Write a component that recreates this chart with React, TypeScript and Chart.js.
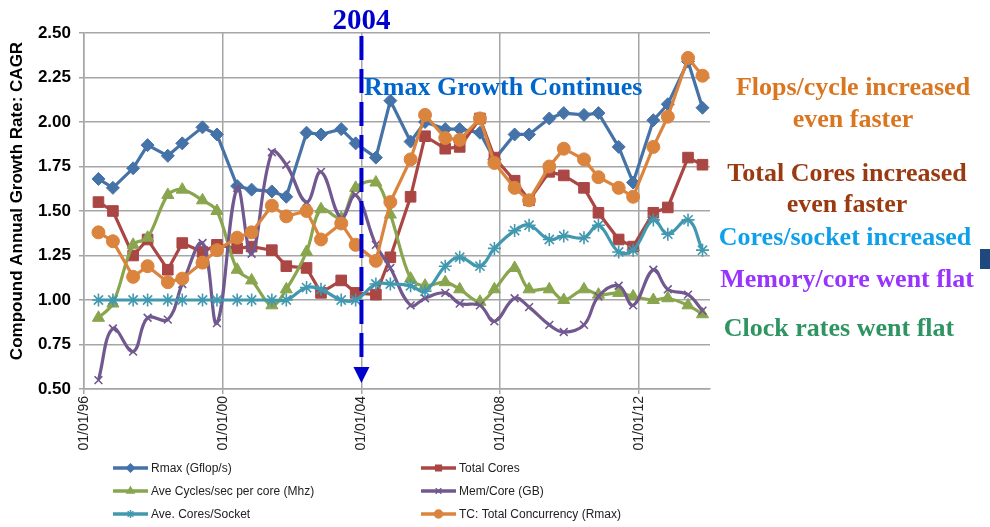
import React, { useEffect, useRef } from 'react';
import { Chart, registerables } from 'chart.js';
import { drawPoint } from 'chart.js/helpers';

Chart.register(...registerables);

// ---------- data ----------
const listDates = [
  '1996-06', '1996-11', '1997-06', '1997-11', '1998-06', '1998-11',
  '1999-06', '1999-11', '2000-06', '2000-11', '2001-06', '2001-11',
  '2002-06', '2002-11', '2003-06', '2003-11', '2004-06', '2004-11',
  '2005-06', '2005-11', '2006-06', '2006-11', '2007-06', '2007-11',
  '2008-06', '2008-11', '2009-06', '2009-11', '2010-06', '2010-11',
  '2011-06', '2011-11', '2012-06', '2012-11', '2013-06', '2013-11',
];

const rmax = [
  1.68, 1.63, 1.74, 1.87, 1.81, 1.88, 1.97, 1.93,
  1.64, 1.62, 1.61, 1.58, 1.94, 1.93, 1.96, 1.88,
  1.80, 2.12, 1.89, 2.00, 1.96, 1.96, 1.94, 1.79,
  1.93, 1.93, 2.02, 2.05, 2.04, 2.05, 1.86, 1.66,
  2.01, 2.10, 2.34, 2.08,
];
const totalCores = [
  1.55, 1.50, 1.25, 1.34, 1.17, 1.32, 1.27, 1.31,
  1.29, 1.30, 1.28, 1.19, 1.18, 1.04, 1.11, 1.04,
  1.03, 1.24, 1.58, 1.92, 1.85, 1.86, 2.02, 1.80,
  1.67, 1.56, 1.72, 1.70, 1.63, 1.49, 1.34, 1.30,
  1.49, 1.52, 1.80, 1.76,
];
const aveCycles = [
  0.90, 0.98, 1.31, 1.35, 1.59, 1.62, 1.56, 1.50,
  1.17, 1.11, 0.97, 1.06, 1.27, 1.51, 1.46, 1.63,
  1.66, 1.48, 1.12, 1.08, 1.10, 1.06, 0.99, 1.06,
  1.18, 1.06, 1.06, 1.00, 1.06, 1.03, 1.04, 1.02,
  1.00, 1.01, 0.97, 0.92,
];
const memPerCore = [
  0.55, 0.84, 0.71, 0.90, 0.89, 1.09, 1.32, 0.87,
  1.63, 1.26, 1.83, 1.76, 1.55, 1.72, 1.46, 1.59,
  1.31, 1.18, 0.97, 1.01, 1.04, 0.98, 0.97, 0.88,
  1.01, 0.96, 0.86, 0.82, 0.86, 1.02, 1.08, 0.97,
  1.17, 1.06, 1.03, 0.94,
];
const coresPerSocket = [
  1.00, 1.00, 1.00, 1.00, 1.00, 1.00, 1.00, 1.00,
  1.00, 1.00, 1.00, 1.00, 1.07, 1.06, 1.00, 1.00,
  1.09, 1.09, 1.08, 1.05, 1.19, 1.24, 1.19, 1.29,
  1.39, 1.42, 1.34, 1.36, 1.35, 1.42, 1.27, 1.28,
  1.45, 1.37, 1.45, 1.28,
];
const totalConcurrency = [
  1.38, 1.33, 1.13, 1.19, 1.10, 1.12, 1.21, 1.28,
  1.35, 1.38, 1.53, 1.47, 1.50, 1.34, 1.43, 1.31,
  1.22, 1.55, 1.79, 2.04, 1.91, 1.90, 2.02, 1.77,
  1.63, 1.56, 1.75, 1.85, 1.79, 1.69, 1.63, 1.58,
  1.86, 2.03, 2.36, 2.26,
];

const seriesNames = [
  'Rmax (Gflop/s)',
  'Total Cores',
  'Ave Cycles/sec per core (Mhz)',
  'Mem/Core (GB)',
  'Ave. Cores/Socket',
  'TC: Total Concurrency (Rmax)',
];

const xTickYears = [1996, 2000, 2004, 2008, 2012];
const xTickLabels = ['01/01/96', '01/01/00', '01/01/04', '01/01/08', '01/01/12'];
const xMinYear = 1996;
const xMaxYear = 2014.05;
const yMin = 0.5;
const yMax = 2.5;
const yStep = 0.25;
const markerYear = 2004;

const yTitle = 'Compound Annual Growth Rate: CAGR';

// ---------- styles ----------
const colors = ['#4572A7', '#AA4643', '#89A54E', '#71588F', '#4198AF', '#DB843D'];
const pointStyles = ['rectRot', 'rect', 'triangle', 'crossRot', 'star', 'circle'];
const pointRadii = [6.5, 7.5, 7, 5.5, 6.5, 6.5];
const tensions = [0, 0, 0.35, 0.4, 0.4, 0];

const toYear = (d: string) => {
  const [y, m] = d.split('-').map(Number);
  return y + (m - 1) / 12;
};

const allSeries = [rmax, totalCores, aveCycles, memPerCore, coresPerSocket, totalConcurrency];

const annotations = [
  { text: 'Rmax Growth Continues', color: '#0066CC', x: 364, y: 95, align: 'left', size: 26 },
  { text: 'Flops/cycle increased', color: '#DA7520', x: 853, y: 95, align: 'center', size: 26 },
  { text: 'even faster', color: '#DA7520', x: 853, y: 127, align: 'center', size: 26 },
  { text: 'Total Cores increased', color: '#9A3A10', x: 847, y: 181, align: 'center', size: 26 },
  { text: 'even faster', color: '#9A3A10', x: 847, y: 212, align: 'center', size: 26 },
  { text: 'Cores/socket increased', color: '#0FA0EA', x: 845, y: 245, align: 'center', size: 26 },
  { text: 'Memory/core went flat', color: '#9933FF', x: 847, y: 287, align: 'center', size: 26 },
  { text: 'Clock rates went flat', color: '#2E9562', x: 839, y: 336, align: 'center', size: 26 },
];

const overlayPlugin = {
  id: 'overlay',
  afterDatasetsDraw(chart: any) {
    const ctx = chart.ctx as CanvasRenderingContext2D;
    const area = chart.chartArea;
    const x = chart.scales.x.getPixelForValue(markerYear);
    ctx.save();
    ctx.strokeStyle = '#0000CC';
    ctx.fillStyle = '#0000CC';
    ctx.lineWidth = 4;
    ctx.setLineDash([24, 9]);
    ctx.beginPath();
    ctx.moveTo(x, area.top + 3);
    ctx.lineTo(x, area.bottom - 23);
    ctx.stroke();
    ctx.setLineDash([]);
    ctx.beginPath();
    ctx.moveTo(x - 8, area.bottom - 22);
    ctx.lineTo(x + 8, area.bottom - 22);
    ctx.lineTo(x, area.bottom - 6);
    ctx.closePath();
    ctx.fill();
    // 2004 label
    ctx.font = 'bold 29px "Liberation Serif", "Times New Roman", serif';
    ctx.textAlign = 'center';
    ctx.textBaseline = 'alphabetic';
    ctx.fillText(String(markerYear), x, 29);
    ctx.restore();
  },
  afterDraw(chart: any) {
    const ctx = chart.ctx as CanvasRenderingContext2D;
    const area = chart.chartArea;
    ctx.save();
    // annotations
    ctx.textBaseline = 'alphabetic';
    for (const a of annotations) {
      ctx.font = `bold ${a.size}px "Liberation Serif", "Times New Roman", serif`;
      ctx.fillStyle = a.color;
      ctx.textAlign = a.align as CanvasTextAlign;
      ctx.fillText(a.text, a.x, a.y);
    }
    // small dark rectangle at right edge
    ctx.fillStyle = '#1F497D';
    ctx.fillRect(980, 249, 10, 20);

    // y-axis title
    ctx.save();
    ctx.translate(17, (area.top + area.bottom) / 2 - 10);
    ctx.rotate(-Math.PI / 2);
    ctx.font = 'bold 17px "Liberation Sans", Arial, sans-serif';
    ctx.fillStyle = '#000';
    ctx.textAlign = 'center';
    ctx.textBaseline = 'middle';
    ctx.fillText(yTitle, 0, 0);
    ctx.restore();

    // legend (2 columns x 3 rows)
    const colX = [113, 421];
    const rowY = [468, 491, 514];
    ctx.font = '12px "Liberation Sans", Arial, sans-serif';
    ctx.textBaseline = 'middle';
    ctx.textAlign = 'left';
    seriesNames.forEach((name, i) => {
      const lx = colX[i % 2];
      const ly = rowY[Math.floor(i / 2)];
      ctx.strokeStyle = colors[i];
      ctx.fillStyle = colors[i];
      ctx.lineWidth = 3.5;
      ctx.beginPath();
      ctx.moveTo(lx, ly);
      ctx.lineTo(lx + 35, ly);
      ctx.stroke();
      ctx.lineWidth = 1.5;
      drawPoint(ctx, { pointStyle: pointStyles[i] as any, radius: 4, rotation: 0, borderWidth: 1.5 }, lx + 17.5, ly);
      ctx.fillStyle = '#222';
      ctx.fillText(name, lx + 38, ly + 1);
    });
    ctx.restore();
  },
};

export default function App() {
  const canvasRef = useRef<HTMLCanvasElement | null>(null);

  useEffect(() => {
    const canvas = canvasRef.current;
    if (!canvas) return;
    Chart.defaults.font.family = '"Liberation Sans", Arial, sans-serif';

    const datasets = allSeries.map((vals, i) => ({
      label: seriesNames[i],
      data: vals.map((v, k) => ({ x: toYear(listDates[k]), y: v })),
      borderColor: colors[i],
      backgroundColor: colors[i],
      borderWidth: 3.2,
      pointStyle: pointStyles[i],
      pointRadius: pointRadii[i],
      pointBorderWidth: pointStyles[i] === 'crossRot' || pointStyles[i] === 'star' ? 1.6 : 1,
      pointBorderColor: colors[i],
      pointBackgroundColor: colors[i],
      tension: tensions[i],
      order: seriesNames.length - i,
      clip: false as any,
    }));

    const yTicks: number[] = [];
    for (let v = yMin; v <= yMax + 1e-9; v += yStep) yTicks.push(Math.round(v * 100) / 100);

    const chart = new Chart(canvas, {
      type: 'line',
      data: { datasets },
      options: {
        animation: false,
        responsive: false,
        devicePixelRatio: 1,
        layout: { padding: { left: 0, top: 33, right: 280, bottom: 0 } },
        plugins: { legend: { display: false }, tooltip: { enabled: false } },
        scales: {
          x: {
            type: 'linear',
            min: xMinYear,
            max: xMaxYear,
            afterBuildTicks: (scale: any) => {
              scale.ticks = xTickYears.map((v) => ({ value: v }));
            },
            afterFit: (scale: any) => {
              scale.height = 527 - 389;
            },
            ticks: {
              autoSkip: false,
              minRotation: 90,
              maxRotation: 90,
              padding: 2,
              color: '#222',
              font: { size: 14 },
              callback: (v: any) => {
                const idx = xTickYears.indexOf(Number(v));
                return idx >= 0 ? xTickLabels[idx] : '';
              },
            },
            grid: { color: '#a6a6a6', lineWidth: 1.5, tickLength: 5 },
            border: { color: '#a6a6a6', width: 1.5 },
          },
          y: {
            type: 'linear',
            min: yMin,
            max: yMax,
            afterBuildTicks: (scale: any) => {
              scale.ticks = yTicks.map((v) => ({ value: v }));
            },
            afterFit: (scale: any) => {
              scale.width = 84;
            },
            ticks: {
              padding: 8,
              color: '#000',
              font: { size: 17, weight: 'bold' },
              callback: (v: any) => Number(v).toFixed(2),
            },
            grid: { color: '#a6a6a6', lineWidth: 1.5, tickLength: 5 },
            border: { color: '#a6a6a6', width: 1.5 },
          },
        },
      },
      plugins: [overlayPlugin],
    });

    return () => chart.destroy();
  }, []);

  return (
    <div style={{ position: 'fixed', left: 0, top: 0, width: 990, height: 527, background: '#fff' }}>
      <canvas ref={canvasRef} width={990} height={527} style={{ width: 990, height: 527 }} />
    </div>
  );
}
